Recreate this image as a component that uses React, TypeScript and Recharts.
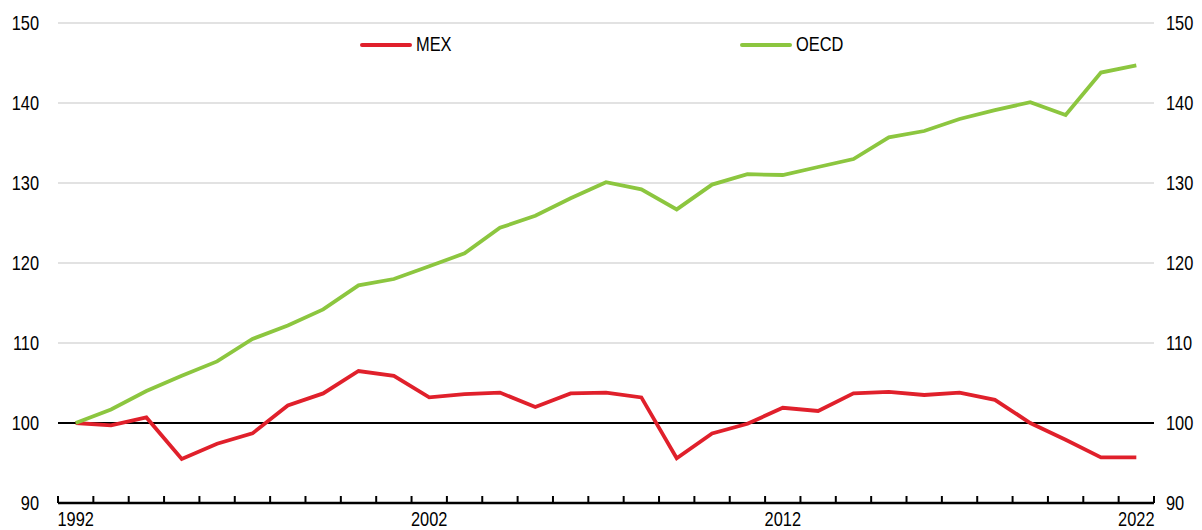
import { LineChart, Line, XAxis, YAxis, CartesianGrid, ReferenceLine, Legend } from 'recharts';

// Index, 1992 = 100
const YEARS = [
  1992, 1993, 1994, 1995, 1996, 1997, 1998, 1999, 2000, 2001, 2002,
  2003, 2004, 2005, 2006, 2007, 2008, 2009, 2010, 2011, 2012,
  2013, 2014, 2015, 2016, 2017, 2018, 2019, 2020, 2021, 2022,
];
const MEX = [
  100.0, 99.7, 100.7, 95.5, 97.4, 98.7, 102.2, 103.7, 106.5, 105.9, 103.2,
  103.6, 103.8, 102.0, 103.7, 103.8, 103.2, 95.6, 98.7, 99.9, 101.9,
  101.5, 103.7, 103.9, 103.5, 103.8, 102.9, 100.0, 97.9, 95.7, 95.7,
];
const OECD = [
  100.0, 101.7, 104.0, 105.9, 107.7, 110.5, 112.2, 114.2, 117.2, 118.0, 119.6,
  121.2, 124.4, 125.9, 128.1, 130.1, 129.2, 126.7, 129.8, 131.1, 131.0,
  132.0, 133.0, 135.7, 136.5, 138.0, 139.1, 140.1, 138.5, 143.8, 144.7,
];
const LABELED_YEARS = [1992, 2002, 2012, 2022];
const Y_TICKS = [90, 100, 110, 120, 130, 140, 150];

const COLOR_MEX = '#e0202b';
const COLOR_OECD = '#8cc63f';
const FONT = '"Liberation Sans", Arial, sans-serif';
const NARROW = 0.82; // no Arial Narrow here, squeeze the regular face instead

const WIDTH = 1186;
const HEIGHT = 522;
const LEFT_AXIS = 50;
const RIGHT_AXIS = 40;
const PLOT_WIDTH = WIDTH - LEFT_AXIS - RIGHT_AXIS;

const data = YEARS.map((year, i) => ({ year, MEX: MEX[i], OECD: OECD[i] }));

const NarrowText = ({ x, y, anchor, children }: any) => (
  <text
    transform={`translate(${x},${y}) scale(${NARROW},1)`}
    textAnchor={anchor}
    fill="#000"
    fontSize={20}
    fontFamily={FONT}
  >
    {children}
  </text>
);

// ticks sit on the band edges, labels in the band centre
const YearTick = (props: any) => {
  const { x, y, payload, index } = props;
  const half = payload && payload.offset ? payload.offset : PLOT_WIDTH / YEARS.length / 2;
  const show = LABELED_YEARS.includes(payload.value);
  return (
    <g>
      <line x1={x - half} x2={x - half} y1={y} y2={y - 7} stroke="#000" strokeWidth={2} />
      {index === YEARS.length - 1 && (
        <line x1={x + half} x2={x + half} y1={y} y2={y - 7} stroke="#000" strokeWidth={2} />
      )}
      {show && (
        <NarrowText x={x} y={y + 23} anchor="middle">
          {payload.value}
        </NarrowText>
      )}
    </g>
  );
};

const ValueTick = (props: any) => {
  const { x, y, payload, textAnchor } = props;
  return (
    <NarrowText x={x} y={y + 7} anchor={textAnchor}>
      {payload.value}
    </NarrowText>
  );
};

const LegendContent = (props: any) => {
  const { payload } = props;
  return (
    <div style={{ display: 'flex', paddingLeft: 352, fontFamily: FONT, fontSize: 20, color: '#000' }}>
      {(payload || []).map((p: any) => (
        <div key={p.value} style={{ width: 380, display: 'flex', alignItems: 'center', gap: 4 }}>
          <span style={{ display: 'inline-block', width: 52, height: 4, borderRadius: 2, background: p.color }} />
          <span style={{ display: 'inline-block', transform: `scaleX(${NARROW})`, transformOrigin: 'left center' }}>
            {p.value}
          </span>
        </div>
      ))}
    </div>
  );
};

export default function App() {
  return (
    <LineChart
      width={WIDTH}
      height={HEIGHT}
      data={data}
      margin={{ top: 15, right: 0, left: 0, bottom: 0 }}
    >
      <CartesianGrid yAxisId="left" vertical={false} stroke="#d9d9d9" strokeWidth={1.5} />
      <XAxis
        dataKey="year"
        scale="band"
        interval={0}
        height={27}
        tickSize={0}
        tickMargin={0}
        tickLine={false}
        axisLine={{ stroke: '#000', strokeWidth: 2.5 }}
        tick={<YearTick />}
      />
      <YAxis
        yAxisId="left"
        domain={[90, 150]}
        ticks={Y_TICKS}
        width={LEFT_AXIS}
        axisLine={false}
        tickLine={false}
        tickSize={0}
        tickMargin={19}
        tick={<ValueTick />}
      />
      <YAxis
        yAxisId="right"
        orientation="right"
        domain={[90, 150]}
        ticks={Y_TICKS}
        width={RIGHT_AXIS}
        axisLine={false}
        tickLine={false}
        tickSize={0}
        tickMargin={12}
        tick={<ValueTick />}
      />
      <ReferenceLine yAxisId="left" y={100} stroke="#000" strokeWidth={2} />
      <Legend
        layout="horizontal"
        align="center"
        verticalAlign="middle"
        content={<LegendContent />}
        wrapperStyle={{ top: 25, left: 0, width: WIDTH }}
      />
      <Line
        yAxisId="left"
        type="linear"
        dataKey="MEX"
        name="MEX"
        stroke={COLOR_MEX}
        strokeWidth={3.8}
        dot={false}
        activeDot={false}
        isAnimationActive={false}
      />
      <Line
        yAxisId="right"
        type="linear"
        dataKey="OECD"
        name="OECD"
        stroke={COLOR_OECD}
        strokeWidth={3.8}
        dot={false}
        activeDot={false}
        isAnimationActive={false}
      />
    </LineChart>
  );
}
